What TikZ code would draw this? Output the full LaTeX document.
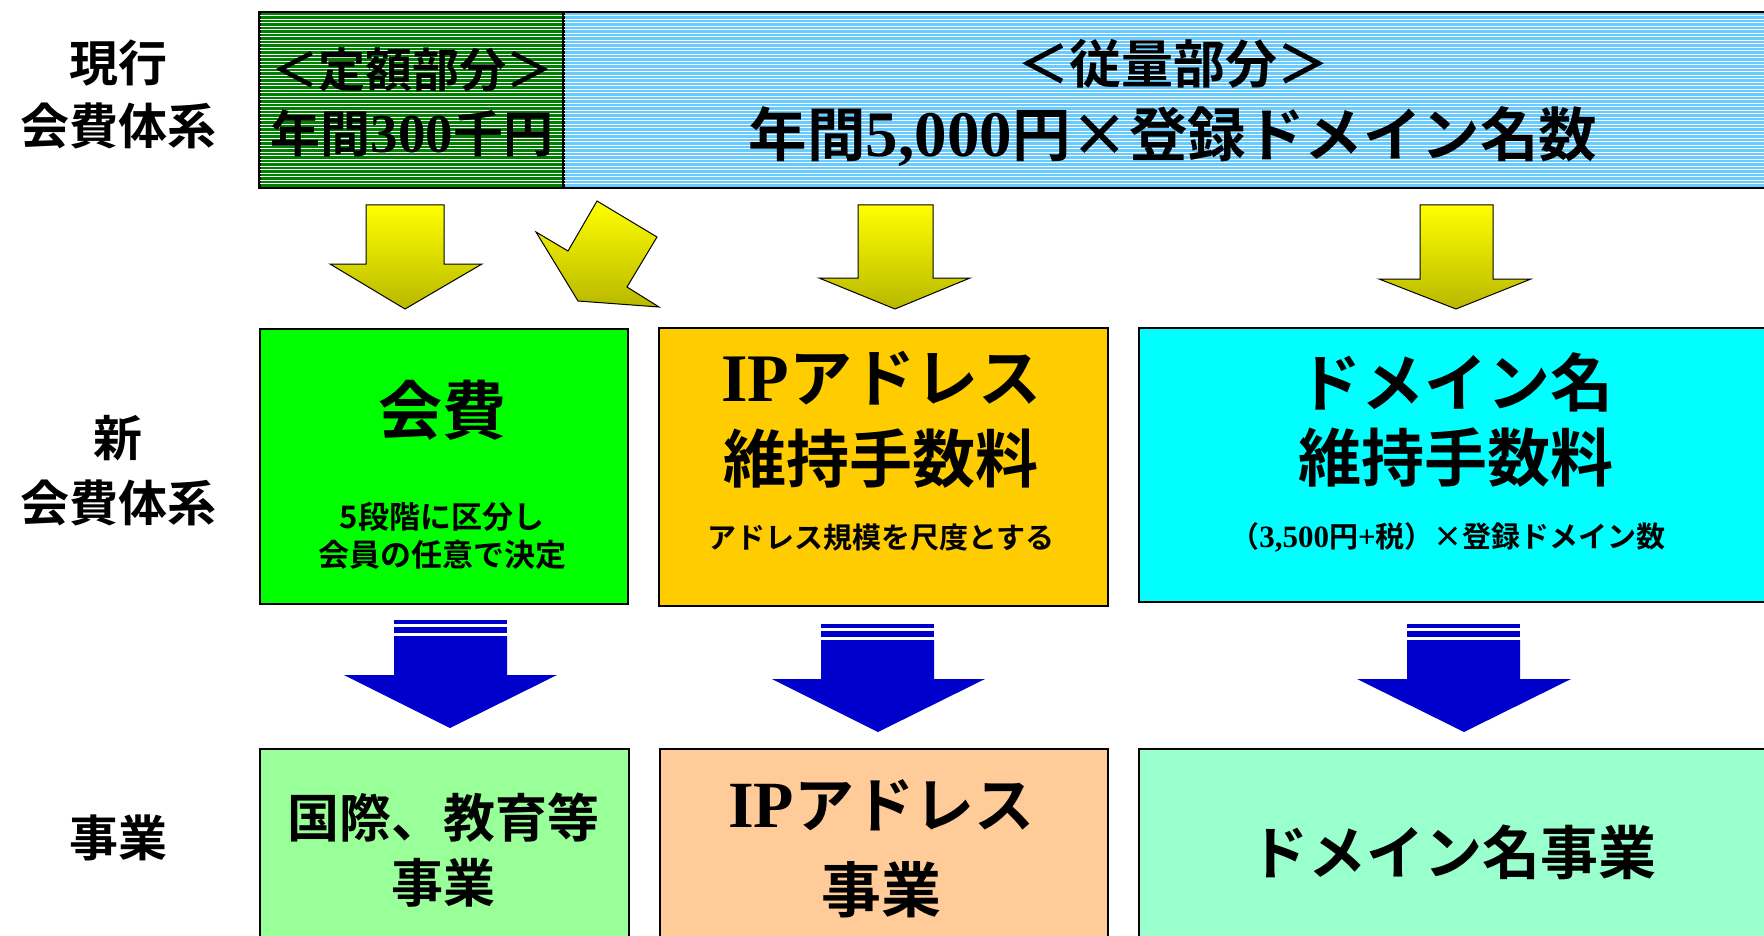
\documentclass[tikz,border=0pt]{standalone}
\usepackage{fontspec}
\setmainfont{Liberation Serif}
\newfontfamily\jp{Noto Sans CJK JP Bold}
\definecolor{dkgreen}{HTML}{008000}
\definecolor{ltblue}{HTML}{66CCFF}
\definecolor{mgreen}{HTML}{00FF00}
\definecolor{morange}{HTML}{FFCC00}
\definecolor{mcyan}{HTML}{00FFFF}
\definecolor{bgreen}{HTML}{99FF99}
\definecolor{borange}{HTML}{FFCC99}
\definecolor{bmint}{HTML}{99FFCC}
\definecolor{arrblue}{HTML}{0000CC}
\definecolor{yolive}{HTML}{B8B800}
\newcommand{\fs}[1]{\fontsize{#1}{#1}\selectfont}
\newcommand{\lat}[2]{{\rmfamily\bfseries\fontsize{#1}{#1}\selectfont #2}}
\begin{document}
\begin{tikzpicture}[x=1pt,y=-1pt,
  box/.style={draw=black, line width=1.5pt, anchor=north west, inner sep=0pt},
  txt/.style={inner sep=0pt, anchor=center, font=\jp},
  yarrow/.style={top color=yellow, bottom color=yolive, draw=black, line width=1pt, line join=miter},
  barrow/.style={fill=arrblue, draw=none}]
\useasboundingbox (0,0) rectangle (1764,936);
\fill[white] (0,0) rectangle (1764,936);

% ---- top bar ----
\node[box, fill=dkgreen, minimum width=304pt, minimum height=176pt] (fixed) at (259,12) {};
\node[box, fill=ltblue, minimum width=1210pt, minimum height=176pt] (vari) at (563,12) {};
\foreach \y in {15.5,19,...,186} {
  \draw[white, line width=0.9pt] (260,\y) -- (1770,\y);
}
\draw[black, line width=1.5pt] (259,12) rectangle (1775,188);
\draw[black, line width=1.5pt] (563,12) -- (563,188);

\node[txt, font=\jp\fs{47}] (t1) at (412,70) {＜定額部分＞};
\node[txt, font=\jp\fs{50}] (t2) at (412,133) {年間\lat{55}{300}千円};
\node[txt, font=\jp\fs{52}] (t3) at (1173,64) {＜従量部分＞};
\node[txt, font=\jp\fs{58.5}] (t4) at (1173,137) {年間\lat{65}{5,000}円×登録ドメイン名数};

% ---- left labels ----
\node[txt, font=\jp\fs{49}] (l1) at (118,63) {現行};
\node[txt, font=\jp\fs{49}] (l2) at (118,126) {会費体系};
\node[txt, font=\jp\fs{49}] (l3) at (118,438) {新};
\node[txt, font=\jp\fs{49}] (l4) at (118,503) {会費体系};
\node[txt, font=\jp\fs{49}] (l5) at (118,838) {事業};

% ---- yellow arrows ----
\shade[yarrow] (366,205) -- (444,205) -- (444,264) -- (482,264) -- (405,309) -- (330,264) -- (366,264) -- cycle;
\shade[yarrow] (597,201) -- (657,237) -- (627,287) -- (659,307) -- (578,301) -- (536,232) -- (568,251) -- cycle;
\shade[yarrow] (858,205) -- (933,205) -- (933,278) -- (970,278) -- (895,309) -- (819,278) -- (858,278) -- cycle;
\shade[yarrow] (1420,205) -- (1493,205) -- (1493,279) -- (1531,279) -- (1456,309) -- (1379,279) -- (1420,279) -- cycle;

% ---- middle boxes ----
\node[box, fill=mgreen, minimum width=368pt, minimum height=275pt] (m1) at (259,328) {};
\node[box, fill=morange, minimum width=449pt, minimum height=278pt] (m2) at (658,327) {};
\node[box, fill=mcyan, minimum width=640pt, minimum height=274pt] (m3) at (1138,327) {};

\node[txt, font=\jp\fs{64}] (m1a) at (442,410) {会費};
\node[txt, font=\jp\fs{31}] (m1b) at (442,517) {5段階に区分し};
\node[txt, font=\jp\fs{31}] (m1c) at (442,555) {会員の任意で決定};

\node[txt, font=\jp\fs{63}] (m2a) at (881,378) {\lat{68}{IP}アドレス};
\node[txt, font=\jp\fs{63}] (m2b) at (881,459) {維持手数料};
\node[txt, font=\jp\fs{29}] (m2c) at (881,538) {アドレス規模を尺度とする};

\node[txt, font=\jp\fs{63}] (m3a) at (1456,382) {ドメイン名};
\node[txt, font=\jp\fs{63}] (m3b) at (1456,458) {維持手数料};
\node[txt, font=\jp\fs{29}] (m3c) at (1448,537) {（\lat{31}{3,500}円\lat{31}{+}税）×登録ドメイン数};

% ---- blue arrows ----
\fill[barrow] (394,620) rectangle (507,624);
\fill[barrow] (394,627) rectangle (507,633);
\fill[barrow] (394,636) -- (507,636) -- (507,675) -- (557,675) -- (450,728) -- (344,675) -- (394,675) -- cycle;

\fill[barrow] (821,624) rectangle (934,628);
\fill[barrow] (821,631) rectangle (934,637);
\fill[barrow] (821,640) -- (934,640) -- (934,679) -- (985,679) -- (878,732) -- (772,679) -- (821,679) -- cycle;

\fill[barrow] (1407,624) rectangle (1520,628);
\fill[barrow] (1407,631) rectangle (1520,637);
\fill[barrow] (1407,640) -- (1520,640) -- (1520,679) -- (1571,679) -- (1464,732) -- (1357,679) -- (1407,679) -- cycle;

% ---- bottom boxes ----
\node[box, fill=bgreen, minimum width=369pt, minimum height=200pt] (b1) at (259,748) {};
\node[box, fill=borange, minimum width=448pt, minimum height=200pt] (b2) at (659,748) {};
\node[box, fill=bmint, minimum width=640pt, minimum height=200pt] (b3) at (1138,748) {};

\node[txt, font=\jp\fs{52}] (b1a) at (443,818) {国際、教育等};
\node[txt, font=\jp\fs{52}] (b1b) at (443,883) {事業};
\node[txt, font=\jp\fs{60}] (b2a) at (881,805) {\lat{66}{IP}アドレス};
\node[txt, font=\jp\fs{60}] (b2b) at (881,890) {事業};
\node[txt, font=\jp\fs{58}] (b3a) at (1453,852) {ドメイン名事業};
\end{tikzpicture}
\end{document}
